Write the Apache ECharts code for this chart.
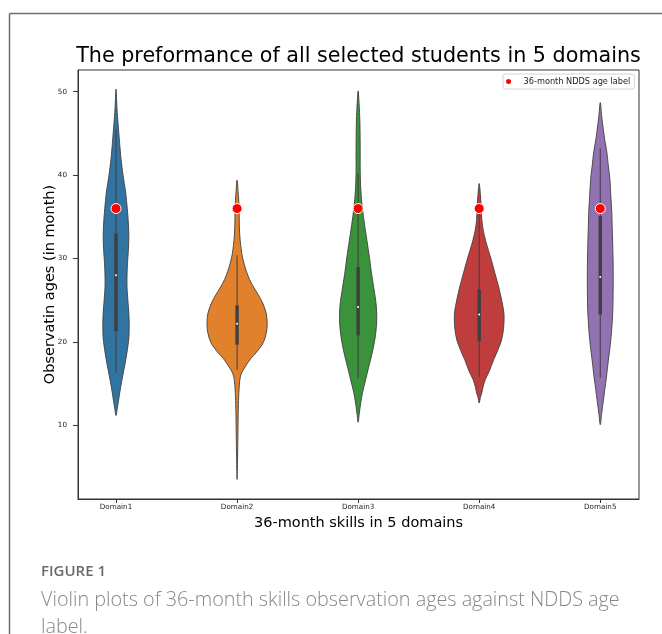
<!DOCTYPE html>
<html><head><meta charset="utf-8">
<script src="https://cdn.jsdelivr.net/npm/echarts@6/dist/echarts.min.js"></script>
<style>html,body{margin:0;padding:0;background:#fff}#c{width:662px;height:634px}</style>
</head><body><div id="c"></div>
<script>
const domains = ['Domain1','Domain2','Domain3','Domain4','Domain5'];
const yTicks = [10,20,30,40,50];
const nddsAge = [36,36,36,36,36];
const domainColors = ['#3274a1','#e1812c','#3a923a','#c03d3e','#9372b2'];

// violin density profiles: ages (months) and half-width (fraction of category spacing)
const d1Ages = [11.2,12,13,14.5,16,17.5,19,20.5,22,23.5,25,26.5,28,29.5,31,32.5,34,36,38,40,42,44,46,48,50.3];
const d1Half = [0,.010,.021,.037,.056,.076,.093,.106,.109,.106,.098,.091,.091,.095,.102,.106,.103,.093,.079,.058,.041,.029,.018,.008,0];
const d2Ages = [3.55,6,9,12,14,15.5,16.3,17.2,18,18.8,19.7,20.5,21.5,22.5,23.5,24.7,25.7,26.6,27.5,28.6,29.6,30.6,32.6,34.5,36,37.5,39.4];
const d2Half = [0,.004,.007,.010,.015,.023,.037,.074,.112,.161,.207,.231,.246,.248,.240,.211,.174,.136,.103,.074,.054,.039,.023,.018,.017,.011,0];
const d3Ages = [10.4,11.5,12.7,14,15.5,17,18.7,20.5,22.3,23.6,25,26.6,28.6,30.6,32.6,34.6,36.6,38.6,40.6,43,46,48,50.1];
const d3Half = [0,.010,.021,.037,.062,.087,.116,.140,.153,.153,.145,.128,.107,.089,.068,.048,.031,.021,.017,.017,.015,.010,0];
const d4Ages = [12.7,13.4,13.9,14.7,15.5,16.5,17.9,19,20.3,21.5,22.5,23.5,25,26.6,28.2,29.8,31,32.2,33.4,34.6,36,37.5,39];
const d4Half = [0,.010,.021,.033,.050,.083,.120,.153,.186,.200,.205,.204,.186,.161,.131,.101,.076,.052,.033,.022,.017,.011,0];
const d5Ages = [10.1,11.5,12.9,14.3,15.7,17.7,19.7,21.6,23.6,25.6,27.6,29.6,31.6,33.6,35.6,37.6,39.6,41.2,42.8,44.2,45.5,47,48.7];
const d5Half = [0,.012,.025,.037,.050,.066,.083,.095,.103,.106,.107,.106,.103,.099,.095,.087,.079,.066,.054,.037,.025,.012,0];

// inner box statistics
const q1 = [21.3,19.7,20.8,20.1,23.3];
const q3 = [33.0,24.4,29.0,26.3,35.1];
const medians = [28.0,22.2,24.2,23.3,27.8];
const whiskerLow = [16.3,16.7,15.7,15.8,15.7];
const whiskerHigh = [45.5,30.4,40.2,35.3,43.2];

const profiles = [[d1Ages,d1Half],[d2Ages,d2Half],[d3Ages,d3Half],[d4Ages,d4Half],[d5Ages,d5Half]];

function renderViolin(params, api){
  const i = params.dataIndex;
  const ages = profiles[i][0], half = profiles[i][1];
  const band = api.size([1,0])[0];
  const right = [], left = [];
  for (let k = 0; k < ages.length; k++){
    const p = api.coord([i, ages[k]]);
    right.push([p[0] + half[k]*band, p[1]]);
    if (k > 0 && k < ages.length-1) left.push([p[0] - half[k]*band, p[1]]);
  }
  const pts = right.concat(left.reverse());
  const lo = api.coord([i, whiskerLow[i]]), hi = api.coord([i, whiskerHigh[i]]);
  const b1 = api.coord([i, q1[i]]), b3 = api.coord([i, q3[i]]), m = api.coord([i, medians[i]]);
  return {type:'group', children:[
    {type:'polygon', shape:{points:pts, smooth:0.3}, style:{fill:domainColors[i], stroke:'#3f3f3f', lineWidth:0.9}},
    {type:'line', shape:{x1:lo[0],y1:lo[1],x2:hi[0],y2:hi[1]}, style:{stroke:'#3f3f3f', lineWidth:1}},
    {type:'line', shape:{x1:b1[0],y1:b1[1],x2:b3[0],y2:b3[1]}, style:{stroke:'#3f3f3f', lineWidth:3.4}},
    {type:'circle', shape:{cx:m[0],cy:m[1],r:1}, style:{fill:'#ffffff'}}
  ]};
}

const chart = echarts.init(document.getElementById('c'), null, {renderer:'canvas'});
chart.setOption({
  animation:false,
  backgroundColor:'#ffffff',
  title:{text:'The preformance of all selected students in 5 domains', left:358.5, top:46, textAlign:'center', padding:0,
    textStyle:{fontFamily:'DejaVu Sans', fontSize:20.7, fontWeight:'normal', color:'#000'}},
  legend:{data:[{name:'36-month NDDS age label', icon:'circle'}], right:27.7, top:74, itemWidth:20, itemHeight:7,
    padding:[3,4,3,1], borderColor:'#d4d4d4', borderWidth:1, borderRadius:2,
    textStyle:{fontFamily:'DejaVu Sans', fontSize:8.2, color:'#222'}},
  grid:{left:78, top:70, right:23, bottom:135, show:true, borderColor:'#333', borderWidth:1, containLabel:false},
  xAxis:{type:'value', min:-0.314, max:4.32,
    axisLine:{show:true, onZero:false, lineStyle:{color:'#333', width:1}}, splitLine:{show:false},
    axisTick:{show:true, customValues:[0,1,2,3,4], length:4, lineStyle:{color:'#333', width:1}},
    axisLabel:{customValues:[0,1,2,3,4], formatter:v=>domains[Math.round(v)], fontFamily:'DejaVu Sans', fontSize:7.2, color:'#222', margin:5},
    name:'36-month skills in 5 domains', nameLocation:'middle', nameGap:17, nameMoveOverlap:false,
    nameTextStyle:{fontFamily:'DejaVu Sans', fontSize:14.5, color:'#000'}},
  yAxis:{type:'value', min:1.2, max:52.6,
    axisLine:{show:true, onZero:false, lineStyle:{color:'#333', width:1}}, splitLine:{show:false},
    axisTick:{show:true, customValues:yTicks, length:5, lineStyle:{color:'#333', width:1}},
    axisLabel:{customValues:yTicks, fontFamily:'DejaVu Sans', fontSize:7.2, color:'#222', margin:11},
    name:'Observatin ages (in month)', nameLocation:'middle', nameGap:20, nameRotate:90, nameMoveOverlap:false,
    nameTextStyle:{fontFamily:'DejaVu Sans', fontSize:14.5, color:'#000'}},
  series:[
    {type:'custom', name:'violins', renderItem:renderViolin, clip:false,
      data:domains.map((d,i)=>[i, medians[i]]), encode:{x:0,y:1}, z:2},
    {type:'scatter', name:'36-month NDDS age label', data:domains.map((d,i)=>[i, nddsAge[i]]),
      symbolSize:10, itemStyle:{color:'#ff0000', borderColor:'#ffffff', borderWidth:1, opacity:1}, z:5}
  ],
  graphic:[
    {type:'line', shape:{x1:9.5,y1:13.5,x2:662,y2:13.5}, style:{stroke:'#6e6e6e', lineWidth:1.5}},
    {type:'line', shape:{x1:9.5,y1:13.5,x2:9.5,y2:634}, style:{stroke:'#6e6e6e', lineWidth:1.5}},
    {type:'text', x:41, y:572, style:{text:'FIGURE 1', font:'600 15px "Open Sans"', fill:'#6a6a6a', textVerticalAlign:'middle'}},
    {type:'text', x:41, y:600, style:{text:'Violin plots of 36-month skills observation ages against NDDS age', font:'300 19.8px "Open Sans"', fill:'#888888', textVerticalAlign:'middle'}},
    {type:'text', x:41, y:627, style:{text:'label.', font:'300 19.8px "Open Sans"', fill:'#888888', textVerticalAlign:'middle'}}
  ]
});
</script>
</body></html>
